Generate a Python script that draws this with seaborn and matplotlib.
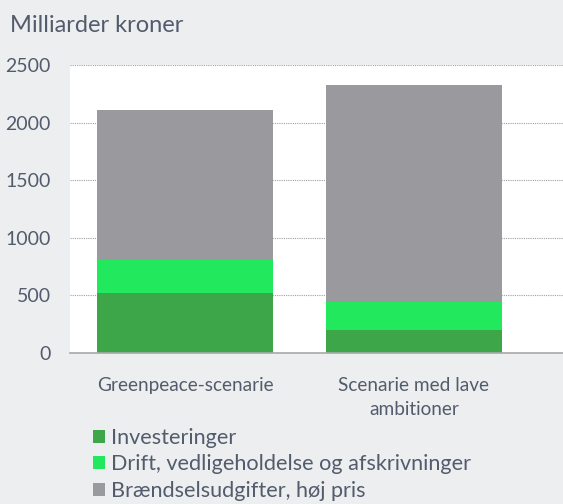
import matplotlib
matplotlib.use("Agg")
import matplotlib.pyplot as plt
import seaborn as sns
import pandas as pd
from matplotlib.patches import Patch

categories = ["Greenpeace-scenarie", "Scenarie med lave\nambitioner"]
investeringer = [525, 200]
drift = [285, 245]
braendsel = [1300, 1880]
series_names = ["Investeringer", "Drift, vedligeholdelse og afskrivninger", "Brændselsudgifter, høj pris"]
yticks = [0, 500, 1000, 1500, 2000, 2500]

colors = ["#3DA649", "#22E85E", "#9A999E"]
bg = "#EDEEF0"
txt = "#535C6C"

sns.set_theme(style="white")
plt.rcParams["font.family"] = ["Lato", "DejaVu Sans"]

fig = plt.figure(figsize=(5.63, 5.04), dpi=100, facecolor=bg)
ax = fig.add_axes([70/563, 1-353/504, 1-70/563, (353-65)/504])
ax.set_facecolor("white")

df = pd.DataFrame({"cat": categories, "inv": investeringer, "drift": drift, "fuel": braendsel})
df["s2"] = df["inv"] + df["drift"]
df["s3"] = df["s2"] + df["fuel"]

for col, c in [("s3", colors[2]), ("s2", colors[1]), ("inv", colors[0])]:
    sns.barplot(data=df, x="cat", y=col, color=c, width=0.77, saturation=1, ax=ax, zorder=3, linewidth=0)

ax.set_xlim(-0.502, 1.651)
ax.set_ylim(0, 2500)
ax.set_yticks(yticks)
ax.set_yticklabels([str(v) for v in yticks], fontsize=14, color=txt)
ax.tick_params(axis="x", labelsize=13.7, labelcolor=txt, length=0, pad=17)
for t in ax.get_xticklabels():
    t.set_linespacing(1.5)
ax.tick_params(axis="y", length=0, pad=14)
ax.set_xlabel("")
ax.set_ylabel("")
ax.yaxis.grid(True, linestyle=(0, (1, 1)), color="#A0A0A0", linewidth=0.8, zorder=0)
ax.set_axisbelow(True)
for s in ["top", "right", "left"]:
    ax.spines[s].set_visible(False)
ax.spines["bottom"].set_color("#A9A9A9")
ax.spines["bottom"].set_linewidth(1.2)
ax.spines["bottom"].set_zorder(4)

fig.text(10/563, 1-25/504, "Milliarder kroner", fontsize=17, color=txt, va="center", ha="left")

handles = [Patch(facecolor=c, edgecolor="none") for c in colors]
leg = fig.legend(handles, series_names, loc="upper left", bbox_to_anchor=(93/563, 1-428/504),
                 frameon=False, fontsize=15.6, handlelength=0.55, handleheight=0.55,
                 handletextpad=0.3, labelspacing=0.3, borderaxespad=0, borderpad=0)
for t in leg.get_texts():
    t.set_color(txt)

fig.savefig("out.png", dpi=100, facecolor=bg)
